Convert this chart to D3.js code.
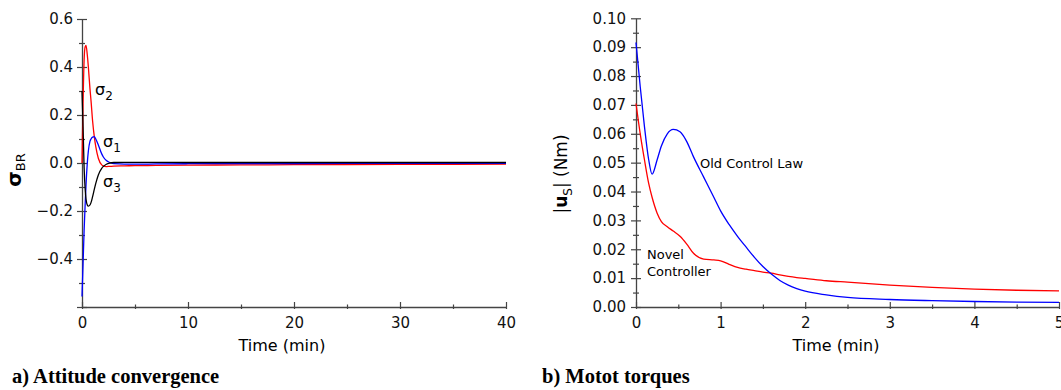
<!DOCTYPE html>
<html><head><meta charset="utf-8">
<script src="https://cdn.jsdelivr.net/npm/d3@7"></script>
<style>
body{margin:0;background:#fff;}
svg{display:block;}
text{font-family:"DejaVu Sans",sans-serif;}
</style></head>
<body>
<svg id="c" width="1061" height="390"></svg>
<script>
// ---- Chart a: attitude convergence ----
const timeA = [0, 0.1, 0.2, 0.3, 0.38, 0.5, 0.6, 0.75, 0.85, 1.0, 1.16, 1.3, 1.54, 1.86, 2.0, 2.3, 2.64, 3.0, 4, 5, 7, 10, 15, 20, 30, 40];
const sigma1 = [-0.556, -0.42, -0.28, -0.17, -0.09, 0.0, 0.05, 0.09, 0.10, 0.108, 0.11, 0.10, 0.075, 0.038, 0.026, 0.01, 0.002, -0.003, -0.005, -0.005, -0.004, -0.003, -0.002, -0.002, -0.001, -0.001];
const sigma2 = [0.0, 0.25, 0.43, 0.485, 0.49, 0.45, 0.40, 0.31, 0.26, 0.175, 0.11, 0.068, 0.02, -0.008, -0.012, -0.015, -0.014, -0.013, -0.012, -0.011, -0.010, -0.009, -0.008, -0.007, -0.006, -0.005];
const sigma3 = [0.30, 0.15, -0.02, -0.11, -0.15, -0.175, -0.18, -0.175, -0.165, -0.14, -0.11, -0.085, -0.05, -0.022, -0.015, -0.005, 0.0, 0.002, 0.003, 0.003, 0.003, 0.002, 0.002, 0.002, 0.002, 0.002];
const ticksAx = [0, 10, 20, 30, 40];
const ticksAxMinor = [5, 15, 25, 35];
const ticksAy = [-0.4, -0.2, 0.0, 0.2, 0.4, 0.6];
const ticksAyNoLabel = [-0.6];
const ticksAyMinor = [-0.5, -0.3, -0.1, 0.1, 0.3, 0.5];

// ---- Chart b: motor torques ----
const timeB = [0, 0.05, 0.1, 0.15, 0.19, 0.25, 0.3, 0.37, 0.44, 0.52, 0.6, 0.68, 0.8, 0.92, 1.0, 1.1, 1.2, 1.3, 1.4, 1.5, 1.6, 1.7, 1.8, 1.9, 2.0, 2.25, 2.5, 3, 3.5, 4, 4.5, 5];
const oldLaw = [0.0916, 0.0763, 0.0625, 0.051, 0.046, 0.051, 0.0558, 0.060, 0.0615, 0.0607, 0.0573, 0.052, 0.045, 0.0380, 0.0333, 0.0286, 0.0245, 0.0208, 0.0172, 0.0140, 0.0114, 0.0092, 0.0076, 0.0064, 0.0055, 0.0042, 0.0033, 0.0026, 0.0022, 0.0019, 0.0017, 0.0016];
const novel = [0.0705, 0.060, 0.051, 0.0428, 0.038, 0.0325, 0.0296, 0.0278, 0.0263, 0.0245, 0.0218, 0.0186, 0.0166, 0.0163, 0.016, 0.0148, 0.0137, 0.0131, 0.0126, 0.0121, 0.0117, 0.0111, 0.0106, 0.0102, 0.0099, 0.0091, 0.0086, 0.0076, 0.0068, 0.0062, 0.0058, 0.0056];
const ticksBx = [0, 1, 2, 3, 4, 5];
const ticksBxMinor = [0.5, 1.5, 2.5, 3.5, 4.5];
const ticksBy = [0, 0.01, 0.02, 0.03, 0.04, 0.05, 0.06, 0.07, 0.08, 0.09, 0.10];
const ticksByMinor = [0.005, 0.015, 0.025, 0.035, 0.045, 0.055, 0.065, 0.075, 0.085, 0.095];

const svg = d3.select("#c");
const AX = "#444";

function drawAxes(g, x, y, opt) {
  const y0 = y.range()[0];
  const x0 = x.range()[0];
  // x axis
  const gx = g.append("g").attr("transform", `translate(0,${y0})`);
  gx.call(d3.axisBottom(x).tickValues(opt.xt).tickSizeInner(2).tickSizeOuter(0).tickPadding(8).tickFormat(d3.format("d")));
  gx.append("g").call(d3.axisBottom(x).tickValues(opt.xt).tickSizeInner(-5).tickSizeOuter(0).tickFormat(""))
    .select(".domain").remove();
  gx.append("g").call(d3.axisBottom(x).tickValues(opt.xm).tickSizeInner(-2.5).tickSizeOuter(0).tickFormat(""))
    .select(".domain").remove();
  gx.append("g").call(d3.axisBottom(x).tickValues(opt.xm).tickSizeInner(2).tickSizeOuter(0).tickFormat(""))
    .select(".domain").remove();
  // y axis
  const gy = g.append("g").attr("transform", `translate(${x0},0)`);
  gy.call(d3.axisLeft(y).tickValues(opt.yt).tickSizeInner(5).tickSizeOuter(0).tickPadding(opt.ypad).tickFormat(opt.yf));
  gy.append("g").call(d3.axisLeft(y).tickValues(opt.yt.concat(opt.yn)).tickSizeInner(-5).tickSizeOuter(0).tickFormat(""))
    .select(".domain").remove();
  gy.append("g").call(d3.axisLeft(y).tickValues(opt.yn).tickSizeInner(5).tickSizeOuter(0).tickFormat(""))
    .select(".domain").remove();
  gy.append("g").call(d3.axisLeft(y).tickValues(opt.ym).tickSizeInner(3).tickSizeOuter(0).tickFormat(""))
    .select(".domain").remove();
  gy.append("g").call(d3.axisLeft(y).tickValues(opt.ym).tickSizeInner(-3).tickSizeOuter(0).tickFormat(""))
    .select(".domain").remove();
  g.selectAll(".domain").attr("stroke", AX).attr("stroke-width", 1.3);
  g.selectAll(".tick line").attr("stroke", AX).attr("stroke-width", 1.2);
  g.selectAll(".tick text").attr("font-family", "DejaVu Sans").attr("font-size", 15).attr("fill", "#111");
}

// Chart a
const xA = d3.scaleLinear().domain([0, 40]).range([82, 506]);
const yA = d3.scaleLinear().domain([-0.6, 0.6]).range([307, 19]);
const gA = svg.append("g");
const fmtA = d => d === 0 ? "0.0" : d3.format(".1f")(d);
drawAxes(gA, xA, yA, {xt: ticksAx, xm: ticksAxMinor, yt: ticksAy, yn: ticksAyNoLabel, ym: ticksAyMinor, yf: fmtA, ypad: 4});

const lineA = vals => d3.line().x((d, i) => xA(timeA[i])).y(d => yA(d)).curve(d3.curveMonotoneX)(vals);
[[sigma2, "#ff0000"], [sigma1, "#0000ff"], [sigma3, "#000000"]].forEach(([v, c]) => {
  gA.append("path").attr("d", lineA(v)).attr("fill", "none").attr("stroke", c).attr("stroke-width", 1.3);
});

function sigmaLabel(g, x, y, sub) {
  const t = g.append("text").attr("x", x).attr("y", y).attr("font-size", 16).attr("fill", "#000");
  t.append("tspan").text("σ");
  t.append("tspan").attr("dy", 5).attr("font-size", 12).text(sub);
}
sigmaLabel(gA, 95, 95, "2");
sigmaLabel(gA, 103, 147, "1");
sigmaLabel(gA, 103, 187, "3");

// y title a
const ytA = gA.append("text").attr("transform", "translate(21,170) rotate(-90)").attr("text-anchor", "middle").attr("fill", "#000");
ytA.append("tspan").attr("font-size", 20).attr("font-weight", "bold").text("σ");
ytA.append("tspan").attr("font-size", 13).attr("dy", 4).text("BR");

gA.append("text").attr("x", 282).attr("y", 351).attr("text-anchor", "middle").attr("font-size", 16).attr("fill", "#000").text("Time (min)");
gA.append("text").attr("x", 12).attr("y", 383).style("font-family", "'Liberation Serif', serif")
  .attr("font-weight", "bold").attr("font-size", 20.5).attr("fill", "#000").text("a) Attitude convergence");

// Chart b
const xB = d3.scaleLinear().domain([0, 5]).range([636, 1059]);
const yB = d3.scaleLinear().domain([0, 0.10]).range([307, 18.3]);
const gB = svg.append("g");
drawAxes(gB, xB, yB, {xt: ticksBx, xm: ticksBxMinor, yt: ticksBy, yn: [], ym: ticksByMinor, yf: d3.format(".2f"), ypad: 5});

const lineB = vals => d3.line().x((d, i) => xB(timeB[i])).y(d => yB(d)).curve(d3.curveMonotoneX)(vals);
[[novel, "#ff0000"], [oldLaw, "#0000ff"]].forEach(([v, c]) => {
  gB.append("path").attr("d", lineB(v)).attr("fill", "none").attr("stroke", c).attr("stroke-width", 1.3);
});

gB.append("text").attr("x", 700).attr("y", 168).attr("font-size", 13).attr("fill", "#000").text("Old Control Law");
gB.append("text").attr("x", 647).attr("y", 259).attr("font-size", 13).attr("fill", "#000").text("Novel");
gB.append("text").attr("x", 647).attr("y", 276).attr("font-size", 13).attr("fill", "#000").text("Controller");

const ytB = gB.append("text").attr("transform", "translate(567,174) rotate(-90)").attr("text-anchor", "middle").attr("font-size", 17).attr("fill", "#000");
ytB.append("tspan").text("|");
ytB.append("tspan").attr("font-weight", "bold").text("u");
ytB.append("tspan").attr("font-size", 12).attr("dy", 5).text("S");
ytB.append("tspan").attr("dy", -5).text("| (Nm)");

gB.append("text").attr("x", 836).attr("y", 351).attr("text-anchor", "middle").attr("font-size", 16).attr("fill", "#000").text("Time (min)");
gB.append("text").attr("x", 542).attr("y", 383).style("font-family", "'Liberation Serif', serif")
  .attr("font-weight", "bold").attr("font-size", 20.5).attr("fill", "#000").text("b) Motot torques");
</script>
</body></html>
